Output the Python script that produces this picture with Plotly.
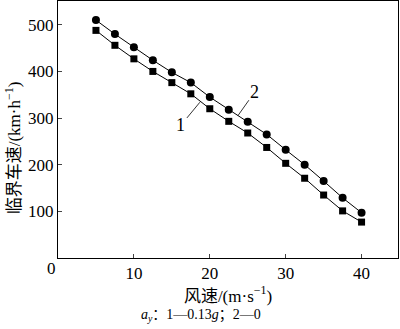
import plotly.graph_objects as go

wind = [5, 7.5, 10, 12.5, 15, 17.5, 20, 22.5, 25, 27.5, 30, 32.5, 35, 37.5, 40]
speed_1 = [488, 456, 427, 400, 376, 352, 320, 293, 268, 237, 203, 171, 135, 101, 77]   # ay = 0.13g
speed_2 = [510, 480, 452, 424, 398, 376, 345, 318, 292, 265, 232, 200, 165, 129, 97]   # ay = 0
x_ticks = [10, 20, 30, 40]
y_ticks = [100, 200, 300, 400, 500]

serif = "Liberation Serif, Times New Roman, serif"
cjk = "Liberation Serif, Noto Sans CJK SC, serif"

fig = go.Figure()
fig.add_trace(go.Scatter(x=wind, y=speed_1, mode="lines+markers",
                         line=dict(color="black", width=1),
                         marker=dict(symbol="square", size=7, color="black"),
                         showlegend=False))
fig.add_trace(go.Scatter(x=wind, y=speed_2, mode="lines+markers",
                         line=dict(color="black", width=1),
                         marker=dict(symbol="circle", size=8, color="black"),
                         showlegend=False))

# curve labels with leader lines
fig.add_annotation(x=18.7, y=334, text="1", showarrow=True, arrowhead=0, arrowwidth=0.8,
                   arrowcolor="black", ax=-19, ay=23, font=dict(family=serif, size=18, color="black"))
fig.add_annotation(x=23.7, y=305, text="2", showarrow=True, arrowhead=0, arrowwidth=0.8,
                   arrowcolor="black", ax=17, ay=-24, font=dict(family=serif, size=18, color="black"))

# origin label
fig.add_annotation(x=0, y=0, xref="x", yref="y", text="0", showarrow=False,
                   xshift=-7, yshift=-10, font=dict(family=serif, size=17, color="black"))

# y-axis title
fig.add_annotation(x=-0.13, xref="paper", y=0.43, yref="paper",
                   text="临界车速/(km·h<sup>−1</sup>)", textangle=-90, showarrow=False,
                   xanchor="center", yanchor="middle",
                   font=dict(family=cjk, size=17, color="black"))

# subtitle
fig.add_annotation(x=0.42, xref="paper", y=-0.222, yref="paper",
                   text="<i>a</i><sub><i>y</i></sub>：1—0.13<i>g</i>；2—0", showarrow=False,
                   yanchor="middle", font=dict(family=cjk, size=14, color="black"))

fig.update_layout(
    width=400, height=329,
    margin=dict(l=58, r=2, t=1, b=71),
    paper_bgcolor="white", plot_bgcolor="white",
    font=dict(family=serif, size=17, color="black"),
    xaxis=dict(range=[0, 44.8], tickvals=x_ticks, ticks="inside", ticklen=4,
               showline=True, linecolor="black", linewidth=1, mirror=True,
               showgrid=False, zeroline=False,
               title=dict(text="风速/(m·s<sup>−1</sup>)", font=dict(family=cjk, size=17), standoff=6)),
    yaxis=dict(range=[0, 551], tickvals=y_ticks, ticks="inside", ticklen=4,
               showline=True, linecolor="black", linewidth=1, mirror=True,
               showgrid=False, zeroline=False),
)

fig.write_html("out.html")
